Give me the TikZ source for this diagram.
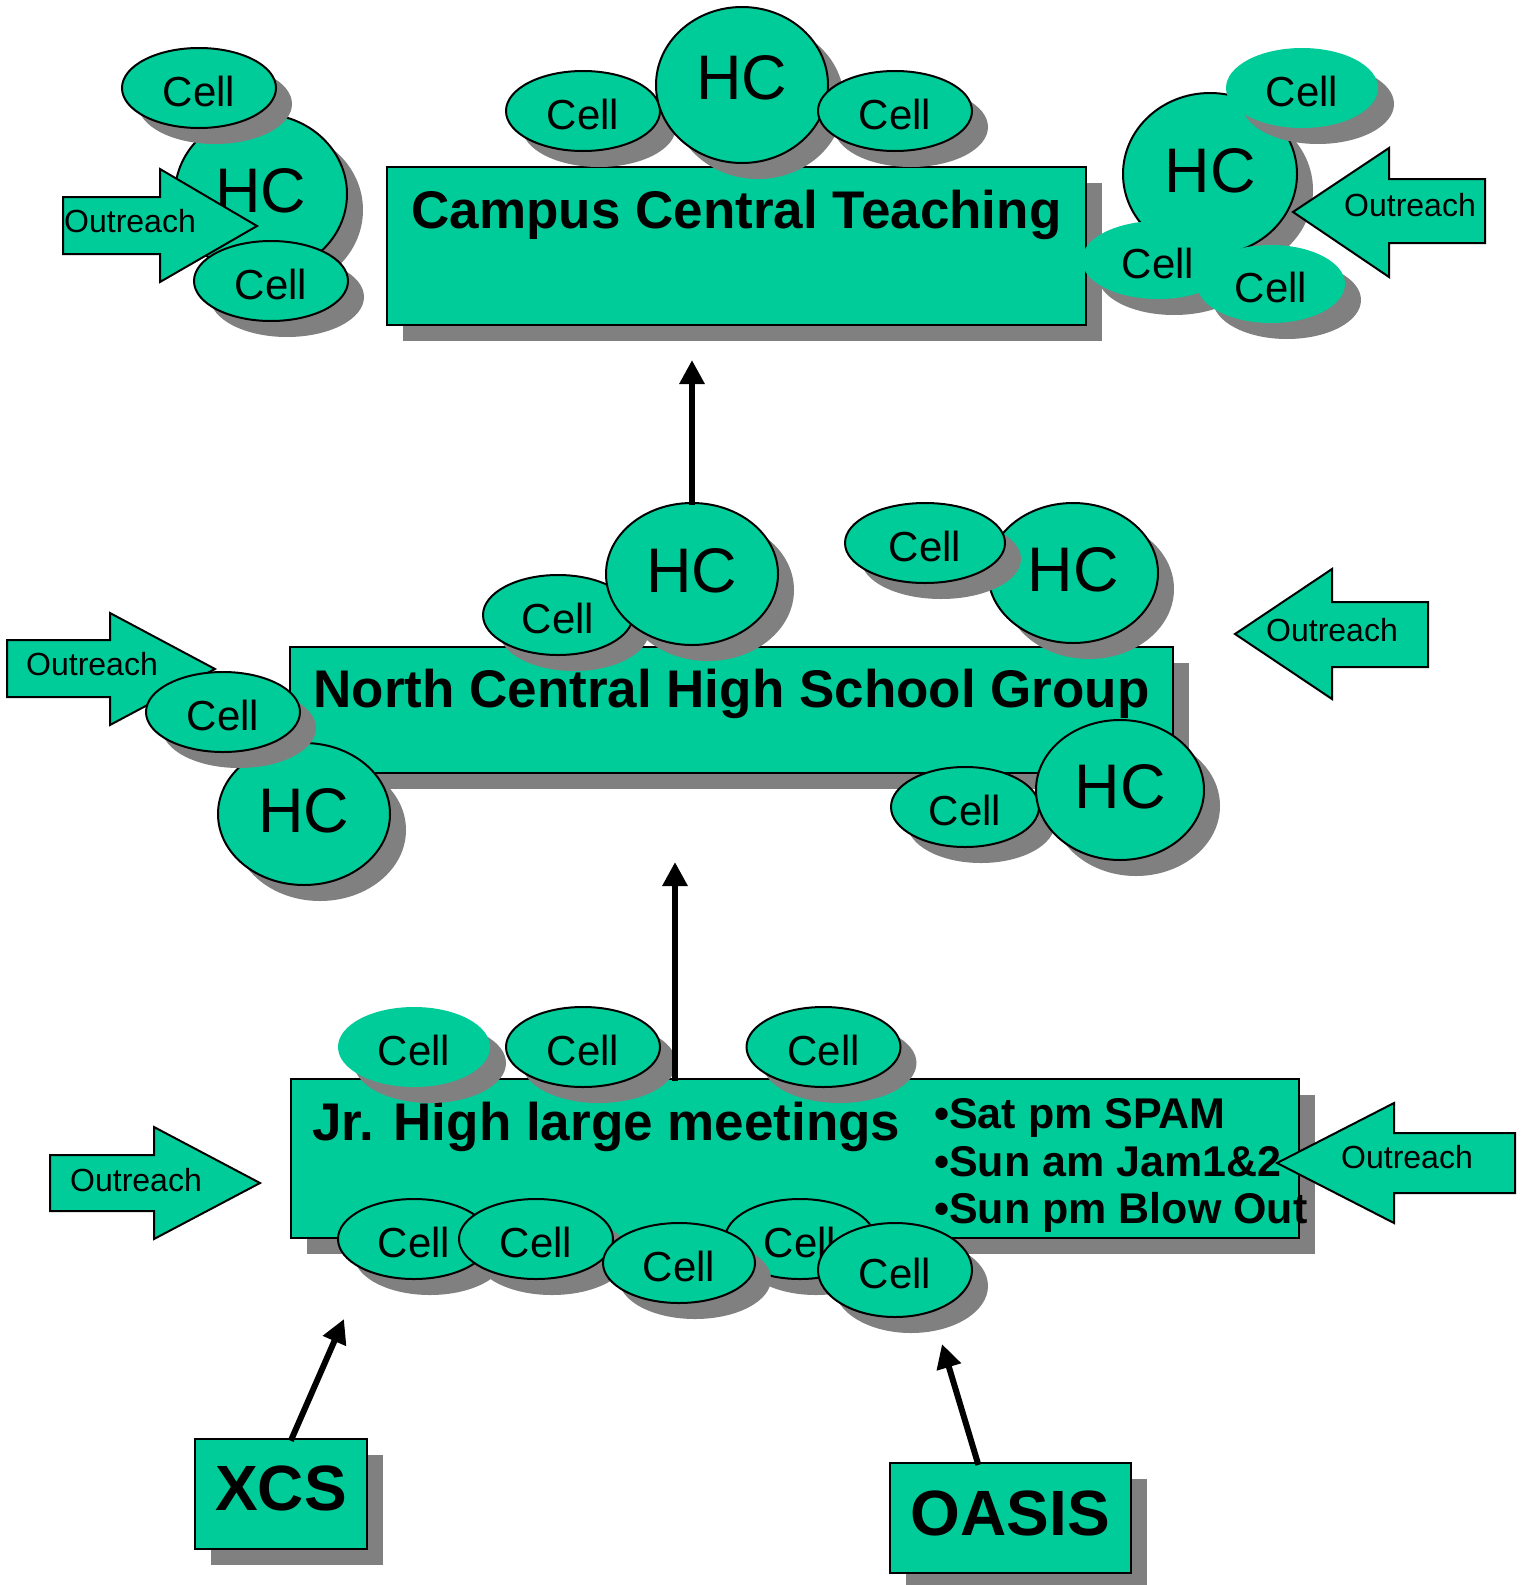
\documentclass[tikz,border=0pt]{standalone}
\usepackage{fontspec}
\setmainfont{Liberation Sans}
\usepackage{tikz}
\usetikzlibrary{shapes.geometric}
\usetikzlibrary{shadows}
\usetikzlibrary{arrows.meta}

\begin{document}
\begin{tikzpicture}[x=1pt,y=-1pt,line cap=rect,
	dropgray/.style={drop shadow={shadow xshift=16pt, shadow yshift=-16pt, opacity=1, fill=custcol_80_80_80}},
	cellpic/.style={ellipse, draw=custcol_0_0_0, line width=2pt, fill=custcol_0_cc_99, inner sep=0pt, minimum width=154pt, minimum height=80pt, font=\fontsize{42pt}{42pt}\selectfont, text height=37pt, text depth=0pt, dropgray},
	bare/.style={draw=none},
	hcpic/.style={cellpic, minimum width=172pt, minimum height=142pt, font=\fontsize{63pt}{63pt}\selectfont, text height=45pt, text depth=9pt},
	boxpic/.style={rectangle, draw=custcol_0_0_0, line width=2pt, fill=custcol_0_cc_99, inner sep=0pt, font=\fontsize{53pt}{53pt}\bfseries\selectfont, dropgray},
	outpic/.style={draw=custcol_0_0_0, line width=2pt, fill=custcol_0_cc_99},
	outtext/.style={inner sep=0pt, font=\fontsize{32pt}{32pt}\selectfont},
	titletext/.style={inner sep=0pt, font=\fontsize{53pt}{53pt}\bfseries\selectfont},
	bullettext/.style={inner sep=0pt, font=\fontsize{43pt}{43pt}\bfseries\selectfont},
	flow/.style={line width=6pt, custcol_0_0_0, -{Triangle[width=24pt,length=24pt]}}]
	\definecolor{custcol_0_cc_99}{RGB}{0, 204, 153}
	\definecolor{custcol_80_80_80}{RGB}{128, 128, 128}
	\definecolor{custcol_0_0_0}{RGB}{0, 0, 0}
	\useasboundingbox (0,0) rectangle (1530,1585);
	% campus level
	\node[hcpic, minimum height=160pt] (hcTL) at (261,194) {HC};
	\draw[outpic] (63,197) -- (160,197) -- (160,169) -- (257,226) -- (160,282) -- (160,254) -- (63,254) -- cycle;
	\node[outtext] (otTL) at (130,221) {Outreach};
	\node[cellpic] (cellTLa) at (199,88) {Cell};
	\node[cellpic] (cellTLb) at (271,281) {Cell};
	\node[boxpic, minimum width=699pt, minimum height=158pt, text height=38pt, text depth=74pt] (campus) at (736.5,246) {Campus Central Teaching};
	\node[cellpic] (cellTCa) at (583,111) {Cell};
	\node[hcpic, minimum height=156pt, text depth=16pt] (hcTC) at (742,85) {HC};
	\node[cellpic] (cellTCb) at (895,111) {Cell};
	\node[hcpic, minimum width=174pt, minimum height=162pt] (hcTR) at (1210,174) {HC};
	\node[cellpic, bare, minimum width=152pt] (cellTRa) at (1302,88) {Cell};
	\node[cellpic, bare, minimum width=152pt, minimum height=78pt] (cellTRb) at (1158,260) {Cell};
	\node[cellpic, bare, minimum width=148pt, minimum height=78pt] (cellTRc) at (1271,284) {Cell};
	\draw[outpic] (1293,212) -- (1389,148) -- (1389,179) -- (1485,179) -- (1485,243) -- (1389,243) -- (1389,277) -- cycle;
	\node[outtext] (otTR) at (1410,205) {Outreach};
	% high school level
	\node[boxpic, minimum width=883pt, minimum height=126pt, text height=38pt, text depth=44pt] (ncgroup) at (731.5,710) {North Central High School Group};
	\node[cellpic, minimum width=150pt] (cellMa) at (558,615) {Cell};
	\node[hcpic] (hcMa) at (692,574) {HC};
	\node[hcpic, minimum width=170pt, minimum height=140pt] (hcMb) at (1073,573) {HC};
	\node[cellpic, minimum width=160pt] (cellMb) at (925,543) {Cell};
	\draw[outpic] (7,640) -- (110,640) -- (110,613) -- (215,669) -- (110,725) -- (110,697) -- (7,697) -- cycle;
	\node[outtext] (otML) at (92,664) {Outreach};
	\node[hcpic] (hcMc) at (304,814) {HC};
	\node[cellpic] (cellMc) at (223,712) {Cell};
	\node[cellpic, minimum width=148pt] (cellMd) at (965,807) {Cell};
	\node[hcpic, minimum width=168pt, minimum height=140pt] (hcMd) at (1120,790) {HC};
	\draw[outpic] (1235,634) -- (1332,569) -- (1332,602) -- (1428,602) -- (1428,667) -- (1332,667) -- (1332,699) -- cycle;
	\node[outtext] (otMR) at (1332,630) {Outreach};
	% jr high level
	\node[boxpic, minimum width=1008pt, minimum height=159pt] (jrbox) at (795,1158.5) {};
	\node[titletext, anchor=base west] (jrtitle) at (312,1140) {Jr. High large meetings};
	\node[bullettext, anchor=base west] (spam) at (934,1128) {•Sat pm SPAM};
	\node[bullettext, anchor=base west] (jam) at (934,1176) {•Sun am Jam1\&2};
	\node[bullettext, anchor=base west] (blowout) at (934,1223) {•Sun pm Blow Out};
	\node[cellpic, bare, minimum width=152pt] (cellJa) at (414,1047) {Cell};
	\node[cellpic] (cellJb) at (583,1047) {Cell};
	\node[cellpic] (cellJc) at (823.5,1047) {Cell};
	\node[cellpic, minimum width=152pt] (cellKa) at (414,1239) {Cell};
	\node[cellpic] (cellKb) at (536,1239) {Cell};
	\node[cellpic, minimum width=150pt] (cellKd) at (800,1239) {Cell};
	\node[cellpic, minimum width=152pt] (cellKc) at (679,1263) {Cell};
	\node[cellpic, minimum height=94pt] (cellKe) at (895,1270) {Cell};
	\draw[outpic] (50,1155) -- (154,1155) -- (154,1127) -- (260,1183) -- (154,1239) -- (154,1211) -- (50,1211) -- cycle;
	\node[outtext] (otBL) at (136,1180) {Outreach};
	\draw[outpic] (1277,1163) -- (1394,1103) -- (1394,1133) -- (1515,1133) -- (1515,1193) -- (1394,1193) -- (1394,1223) -- cycle;
	\node[outtext] (otBR) at (1407,1157) {Outreach};
	% feeders
	\node[boxpic, minimum width=172pt, minimum height=110pt, font=\fontsize{64pt}{64pt}\bfseries\selectfont, text height=47pt, text depth=15pt] (xcs) at (281,1494) {XCS};
	\node[boxpic, minimum width=241pt, minimum height=110pt, font=\fontsize{64pt}{64pt}\bfseries\selectfont, text height=47pt, text depth=13pt] (oasis) at (1010.5,1518) {OASIS};
	\coordinate (campusIn) at (692,360);
	\coordinate (ncIn) at (675,862);
	\coordinate (jrInL) at (344,1319);
	\coordinate (jrInR) at (942,1344);
	\draw[flow] (hcMa) -- (campusIn);
	\draw[flow] (jrbox.north -| ncIn) -- (ncIn);
	\draw[flow] ([xshift=11pt]xcs.north) -- (jrInL);
	\draw[flow] ([xshift=-33pt]oasis.north) -- (jrInR);
\end{tikzpicture}
\end{document}
